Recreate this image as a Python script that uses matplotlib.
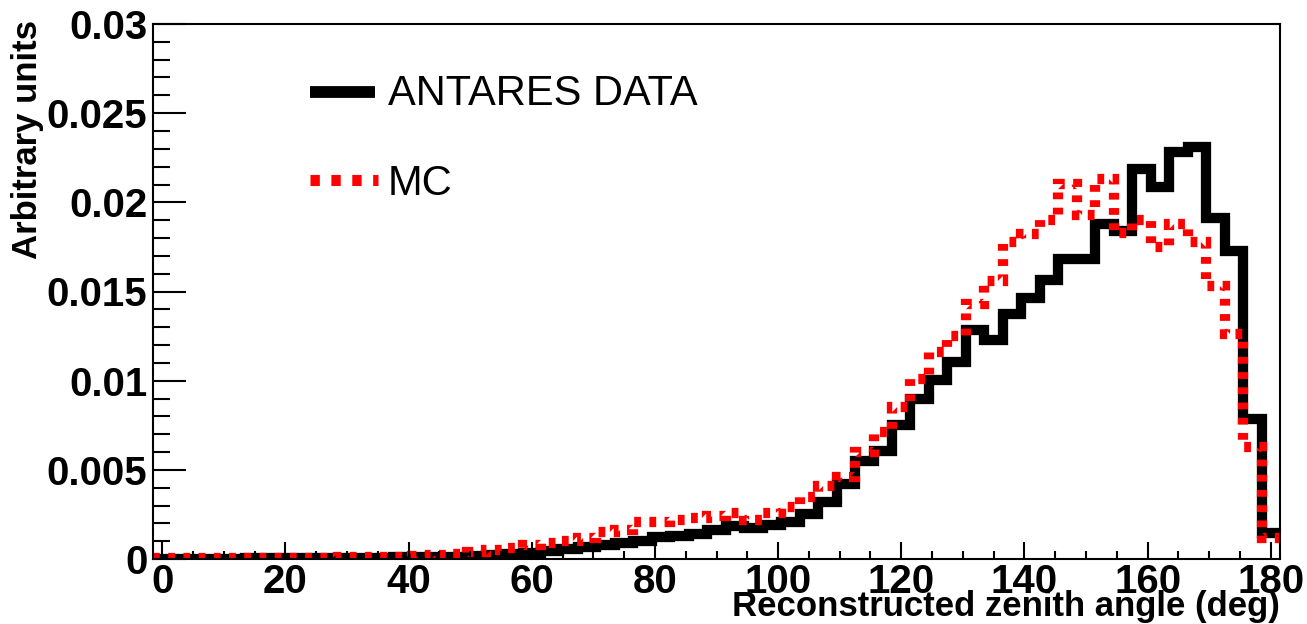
import numpy as np
import matplotlib
matplotlib.use('Agg')
import matplotlib.pyplot as plt
from matplotlib.lines import Line2D
from matplotlib.ticker import MultipleLocator, FuncFormatter

plt.rcParams['font.family'] = ['Liberation Sans', 'DejaVu Sans']

# 3 degree bins centred on 0, 3, ..., 180
bin_edges = np.arange(-1.5, 181.6, 3)

data_vals = [
    0.00002, 0.00002, 0.00002, 0.00002, 0.00002, 0.00003, 0.00003, 0.00004, 0.00005, 0.00005,
    0.00006, 0.00007, 0.00008, 0.00009, 0.0001, 0.00011, 0.00013, 0.00016, 0.0002, 0.00028,
    0.00035, 0.00047, 0.00058, 0.00068, 0.0008, 0.0009, 0.00103, 0.00121, 0.00131, 0.0014,
    0.00165, 0.00183, 0.00176, 0.00193, 0.00208, 0.00255, 0.00318, 0.00421, 0.00552, 0.00608,
    0.00752, 0.00899, 0.01002, 0.01106, 0.01283, 0.01228, 0.01372, 0.01461, 0.01567, 0.01684,
    0.01684, 0.0188, 0.01842, 0.02185, 0.02088, 0.02284, 0.02312, 0.01912, 0.01726, 0.00787,
    0.00146,
]

mc_vals = [
    0.00003, 0.00003, 0.00003, 0.00003, 0.00003, 0.00003, 0.00004, 0.00005, 0.00006, 0.00008,
    0.0001, 0.0001, 0.00013, 0.00014, 0.00016, 0.0002, 0.0003, 0.0004, 0.0005, 0.0006,
    0.0008, 0.0009, 0.001, 0.0012, 0.0015, 0.0016, 0.0021, 0.0021, 0.0022, 0.0023,
    0.0024, 0.0026, 0.0022, 0.0026, 0.0029, 0.0035, 0.0041, 0.0046, 0.006, 0.0071,
    0.0085, 0.0101, 0.0116, 0.0125, 0.0143, 0.0156, 0.0178, 0.0182, 0.019, 0.021,
    0.0193, 0.0213, 0.0183, 0.019, 0.0175, 0.0188, 0.0178, 0.0153, 0.0126, 0.0063,
    0.0012,
]

W, H = 1307, 624
fig = plt.figure(figsize=(W / 100, H / 100), dpi=100)
ax = fig.add_axes([153 / W, 1 - 559 / H, (1280 - 153) / W, (559 - 24) / H])

lw = 7.4
ax.stairs(data_vals, bin_edges, baseline=None, color='black', lw=lw,
          joinstyle='miter')
ax.stairs(mc_vals, bin_edges, baseline=None, color='#ff0000', lw=lw,
          linestyle=(0, (0.66, 0.82)), joinstyle='miter')

ax.set_xlim(-1.5, 181.5)
ax.set_ylim(0, 0.03)

ax.xaxis.set_major_locator(MultipleLocator(20))
ax.xaxis.set_minor_locator(MultipleLocator(5))
ax.yaxis.set_major_locator(MultipleLocator(0.005))
ax.yaxis.set_minor_locator(MultipleLocator(0.001))
ax.yaxis.set_major_formatter(FuncFormatter(lambda v, p: '%g' % round(v, 4)))
ax.xaxis.set_major_formatter(FuncFormatter(lambda v, p: '%g' % v))

ax.tick_params(which='both', direction='in', top=False, right=False, width=1.5)
ax.tick_params(axis='x', which='major', length=12, pad=3)
ax.tick_params(axis='x', which='minor', length=6)
ax.tick_params(axis='y', which='major', length=24, pad=4)
ax.tick_params(axis='y', which='minor', length=12)
for lab in ax.get_xticklabels() + ax.get_yticklabels():
    lab.set_fontsize(29)
    lab.set_fontweight('bold')

for s in ax.spines.values():
    s.set_linewidth(1.5)

ax.set_xlabel('Reconstructed zenith angle (deg)', fontsize=25, fontweight='bold',
              loc='right')
ax.xaxis.set_label_coords(1.0, -0.058)
ax.set_ylabel('Arbitrary units', fontsize=25, fontweight='bold', loc='top')
ax.yaxis.set_label_coords(-0.097, 1.008)

# legend
fig.add_artist(Line2D([310 / W, 375 / W], [1 - 92 / H] * 2, color='black', lw=8.5,
                      solid_capstyle='butt'))
fig.text(388 / W, 1 - 94 / H, 'ANTARES DATA', fontsize=30, va='center')
fig.add_artist(Line2D([310 / W, 378 / W], [1 - 180 / H] * 2, color='#ff0000', lw=8.0,
                      linestyle=(0, (0.84, 1.04)), dash_capstyle='butt'))
fig.text(388 / W, 1 - 184 / H, 'MC', fontsize=30, va='center')

fig.savefig('out.png', dpi=100)
